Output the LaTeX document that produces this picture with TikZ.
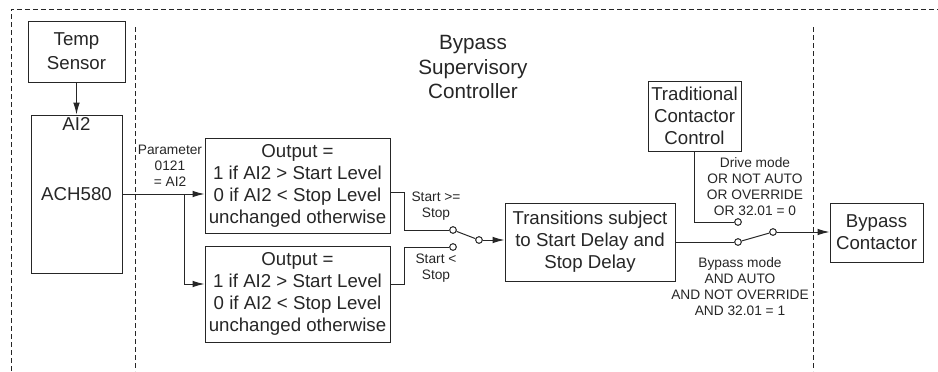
\documentclass[tikz,border=0pt]{standalone}
\usepackage{fontspec}
\setmainfont{Liberation Sans}
\usetikzlibrary{arrows.meta}

\tikzset{
  block/.style={draw, align=center, inner sep=2pt, font=\fontsize{14}{16.5}\selectfont},
  lbl/.style={align=center, inner sep=0pt, font=\fontsize{10.3}{12}\selectfont},
  contact/.style={circle, draw, fill=white, inner sep=0pt, minimum size=5pt},
  frame/.style={dash pattern=on 4pt off 2pt},
}

\begin{document}
\begin{tikzpicture}[x=0.75pt, y=-0.75pt, line width=0.75pt, color=black!85,
                    >={Latex[length=9pt,width=5pt]}]
        \useasboundingbox (0,0) rectangle (938,371);

        % dashed frame
        \draw[frame] (11,371) -- (11,9) -- (938,9);
        \draw[frame] (135,27) -- (135,371);
        \draw[frame] (813,27) -- (813,371);

        % title
        \node[align=center, font=\fontsize{15.5}{18.5}\selectfont] (title) at (473,67) {Bypass\\Supervisory\\Controller};

        % blocks
        \node[block, minimum width=72.75pt, minimum height=45.75pt, font=\fontsize{14}{18}\selectfont] (temp) at (76.5,51.5) {Temp\\Sensor};
        \node[block, minimum width=68.25pt, minimum height=118.5pt] (ach) at (76.5,194) {ACH580};
        \node[block, draw=none, anchor=north] (ai) at (ach.north) {AI2};
        \node[block, minimum width=138.75pt, minimum height=71.25pt] (out1) at (297.5,185.5)
            {Output =\\1 if AI2 > Start Level\\0 if AI2 < Stop Level\\unchanged otherwise};
        \node[block, minimum width=138.75pt, minimum height=72pt] (out2) at (297.5,294)
            {Output =\\1 if AI2 > Start Level\\0 if AI2 < Stop Level\\unchanged otherwise};
        \node[block, minimum width=127.5pt, minimum height=58.5pt] (trans) at (590,242)
            {Transitions subject\\to Start Delay and\\Stop Delay};
        \node[block, minimum width=69.75pt, minimum height=52.5pt] (tcc) at (694.5,116) {Traditional\\Contactor\\Control};
        \node[block, minimum width=69.75pt, minimum height=44.25pt] (bc) at (876.5,232.5) {Bypass\\Contactor};

        % switch contacts
        \node[contact] (c1a) at (453,230) {};
        \node[contact] (c1b) at (453,247) {};
        \node[contact] (p1) at (479,240) {};
        \node[contact] (c2a) at (738,222) {};
        \node[contact] (c2b) at (738,242) {};
        \node[contact] (p2) at (773,232) {};

        % signal path
        \draw[->] (temp) -- (ach);
        \draw[->] (ach.east) -- (ach.east -| out1.west);
        \coordinate (split) at (184,194);
        \draw[->] (split) |- ([yshift=7.5pt]out2.west);
        \draw ([yshift=-4.9pt]out1.east) -- ++(14,0) |- (c1a);
        \draw ([yshift=7.5pt]out2.east) -- ++(14,0) |- (c1b);
        \draw (c1a) -- (p1);
        \draw[->] (p1) -- (p1 -| trans.west);
        \draw (tcc.south) |- (c2a);
        \draw (trans.east) -- (c2b);
        \draw (c2b) -- (p2);
        \draw[->] (p2) -- (p2 -| bc.west);

        % labels
        \node[lbl] (par) at (170,166) {Parameter\\0121\\= AI2};
        \node[lbl] (ge) at (436,206) {Start >=\\Stop};
        \node[lbl] (lt) at (436,268) {Start <\\Stop};
        \node[lbl] (drv) at (755,187) {Drive mode\\OR NOT AUTO\\OR OVERRIDE\\OR 32.01 = 0};
        \node[lbl] (byp) at (740,286.5) {Bypass mode\\AND AUTO\\AND NOT OVERRIDE\\AND 32.01 = 1};
\end{tikzpicture}
\end{document}
